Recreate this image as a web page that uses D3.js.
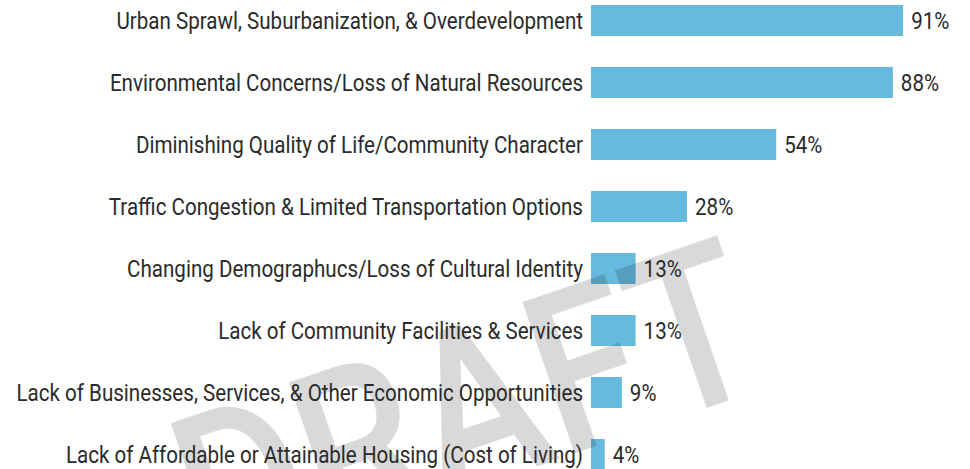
<!DOCTYPE html>
<html>
<head>
<meta charset="utf-8">
<script src="https://cdn.jsdelivr.net/npm/d3@7"></script>
<style>
  html, body { margin: 0; padding: 0; background: #fff; }
  svg { display: block; }
</style>
</head>
<body>
<svg id="chart" width="970" height="469"></svg>
<script>
// Survey responses: share of respondents naming each issue
const categories = [
  "Urban Sprawl, Suburbanization, & Overdevelopment",
  "Environmental Concerns/Loss of Natural Resources",
  "Diminishing Quality of Life/Community Character",
  "Traffic Congestion & Limited Transportation Options",
  "Changing Demographucs/Loss of Cultural Identity",
  "Lack of Community Facilities & Services",
  "Lack of Businesses, Services, & Other Economic Opportunities",
  "Lack of Affordable or Attainable Housing (Cost of Living)"
];
const values = [91, 88, 54, 28, 13, 13, 9, 4];
const watermark = "DRAFT";

const svg = d3.select("#chart");
const barLeft = 591;
const labelRight = 583;
const fontFamily = "Roboto, 'Liberation Sans', sans-serif";

// scales
const x = d3.scaleLinear().domain([0, 100]).range([barLeft, barLeft + 343]);
const y = d3.scaleBand()
  .domain(categories)
  .range([-10.5, 485.5])
  .paddingInner(0.5)
  .paddingOuter(0.25);

const data = categories.map((c, i) => ({ label: c, value: values[i] }));

// bars
svg.append("g")
  .selectAll("rect")
  .data(data)
  .join("rect")
  .attr("x", x(0))
  .attr("y", d => y(d.label))
  .attr("width", d => x(d.value) - x(0))
  .attr("height", y.bandwidth())
  .attr("fill", "#65bade");

// watermark, semi transparent over the bars
const wm = svg.append("g")
  .attr("transform", "translate(773,385) rotate(-19)");
wm.append("text")
  .attr("text-anchor", "end")
  .attr("font-family", fontFamily)
  .attr("font-size", 225)
  .attr("font-weight", 500)
  .attr("fill", "#000")
  .attr("fill-opacity", 0.15)
  .attr("transform", "scale(0.85,1)")
  .text(watermark);

// category labels (condensed look via horizontal scale)
const sx = 0.895;
const labels = svg.append("g")
  .selectAll("g")
  .data(data)
  .join("g")
  .attr("transform", d => `translate(${labelRight},${y(d.label) + y.bandwidth() / 2}) scale(${sx},1)`);
labels.append("text")
  .attr("text-anchor", "end")
  .attr("dy", "0.35em")
  .attr("font-family", fontFamily)
  .attr("font-size", 23)
  .attr("fill", "#2b2b2b")
  .text(d => d.label);

// value labels
svg.append("g")
  .selectAll("g")
  .data(data)
  .join("g")
  .attr("transform", d => `translate(${x(d.value) + 8},${y(d.label) + y.bandwidth() / 2}) scale(${sx},1)`)
  .append("text")
  .attr("dy", "0.35em")
  .attr("font-family", fontFamily)
  .attr("font-size", 23)
  .attr("fill", "#2b2b2b")
  .text(d => d.value + "%");
</script>
</body>
</html>
